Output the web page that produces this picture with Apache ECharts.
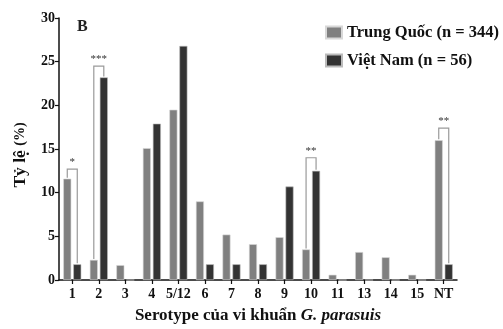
<!DOCTYPE html>
<html>
<head>
<meta charset="utf-8">
<script src="https://cdn.jsdelivr.net/npm/echarts@6/dist/echarts.min.js"></script>
<style>
html,body{margin:0;padding:0;background:#fff;}
#c{width:503px;height:329px;}
</style>
</head>
<body>
<div id="c"></div>
<script>
var categories = ['1','2','3','4','5/12','6','7','8','9','10','11','13','14','15','NT'];
var trungQuoc = [11.6, 2.3, 1.7, 15.1, 19.5, 9.0, 5.2, 4.1, 4.9, 3.5, 0.6, 3.2, 2.6, 0.6, 16.0];
var vietNam   = [1.8, 23.2, 0, 17.9, 26.8, 1.8, 1.8, 1.8, 10.7, 12.5, 0, 0, 0, 0, 1.8];
var yTicks = [0, 5, 10, 15, 20, 25, 30];
var bracketCats = [0, 1, 9, 14];
var bracketTops = [12.7, 24.5, 14.0, 17.4];
var bracketLabels = ['*', '***', '**', '**'];

var FONT = '"Liberation Serif", "Times New Roman", serif';
var bracketData = bracketCats.map(function (c, i) {
  return [c, bracketTops[i], trungQuoc[c], vietNam[c], bracketLabels[i]];
});

var chart = echarts.init(document.getElementById('c'), null, {renderer: 'canvas'});
chart.setOption({
  animation: false,
  backgroundColor: '#fff',
  grid: {left: 59, width: 398, top: 18, height: 262.5, containLabel: false},
  title: {text: 'B', left: 72, top: 14, textStyle: {fontFamily: FONT, fontWeight: 'bold', fontSize: 16, color: '#222'}},
  legend: {
    left: 320, top: 19, orient: 'vertical', itemWidth: 16, itemHeight: 12, itemGap: 11,
    icon: 'rect',
    textStyle: {fontFamily: FONT, fontWeight: 'bold', fontSize: 16.5, color: '#111'},
    data: ['Trung Quốc (n = 344)', 'Việt Nam (n = 56)']
  },
  xAxis: {
    type: 'category', data: categories,
    axisLine: {lineStyle: {color: '#111', width: 1.5}},
    axisTick: {show: true, alignWithLabel: true, length: 4, lineStyle: {color: '#111', width: 1.2}},
    axisLabel: {fontFamily: FONT, fontWeight: 'bold', fontSize: 14, color: '#111', margin: 7, interval: 0},
    name: '{n|Serotype của vi khuẩn }{i|G. parasuis}',
    nameLocation: 'middle', nameGap: 27,
    nameTextStyle: {
      rich: {
        n: {fontFamily: FONT, fontWeight: 'bold', fontSize: 17, color: '#111'},
        i: {fontFamily: FONT, fontWeight: 'bold', fontStyle: 'italic', fontSize: 17, color: '#111'}
      }
    }
  },
  yAxis: {
    type: 'value', min: 0, max: 30, interval: 5,
    axisLine: {show: true, lineStyle: {color: '#111', width: 1.5}},
    axisTick: {show: true, length: 4, lineStyle: {color: '#111', width: 1.2}},
    splitLine: {show: false},
    axisLabel: {fontFamily: FONT, fontWeight: 'bold', fontSize: 14, color: '#111', margin: 4,
      formatter: function (v) { return yTicks.indexOf(v) >= 0 ? String(v) : ''; }},
    name: '{a|Tỷ lệ }{b|(%)}', nameLocation: 'middle', nameGap: 30,
    nameTextStyle: {
      padding: [0, 12, 0, 0],
      rich: {
        a: {fontFamily: FONT, fontWeight: 'bold', fontSize: 17.5, color: '#111'},
        b: {fontFamily: FONT, fontWeight: 'bold', fontSize: 14, color: '#111'}
      }
    }
  },
  series: [
    {name: 'Trung Quốc (n = 344)', type: 'bar', data: trungQuoc, barWidth: 8, barGap: '25%',
      itemStyle: {color: '#808080', borderColor: '#d8d8d8', borderWidth: 0.6}},
    {name: 'Việt Nam (n = 56)', type: 'bar', data: vietNam, barWidth: 8, barGap: '25%',
      itemStyle: {color: '#333333', borderColor: '#bbbbbb', borderWidth: 0.6}},
    {
      type: 'custom', data: bracketData, z: 5, silent: true,
      renderItem: function (params, api) {
        var c = api.value(0);
        var top = api.coord([c, api.value(1)]);
        var pTQ = api.coord([c, api.value(2)]);
        var pVN = api.coord([c, api.value(3)]);
        var off = 5;
        var xl = top[0] - off, xr = top[0] + off;
        return {
          type: 'group',
          children: [
            {type: 'polyline', shape: {points: [[xl, pTQ[1] - 1], [xl, top[1]], [xr, top[1]], [xr, pVN[1] - 1]]},
              style: {stroke: '#9a9a9a', lineWidth: 1.2, fill: null}},
            {type: 'text', x: top[0], y: top[1] - 1,
              style: {text: bracketData[params.dataIndex][4], fontFamily: FONT, fontSize: 11, fill: '#333',
                align: 'center', verticalAlign: 'bottom'}}
          ]
        };
      }
    }
  ]
});
</script>
</body>
</html>
